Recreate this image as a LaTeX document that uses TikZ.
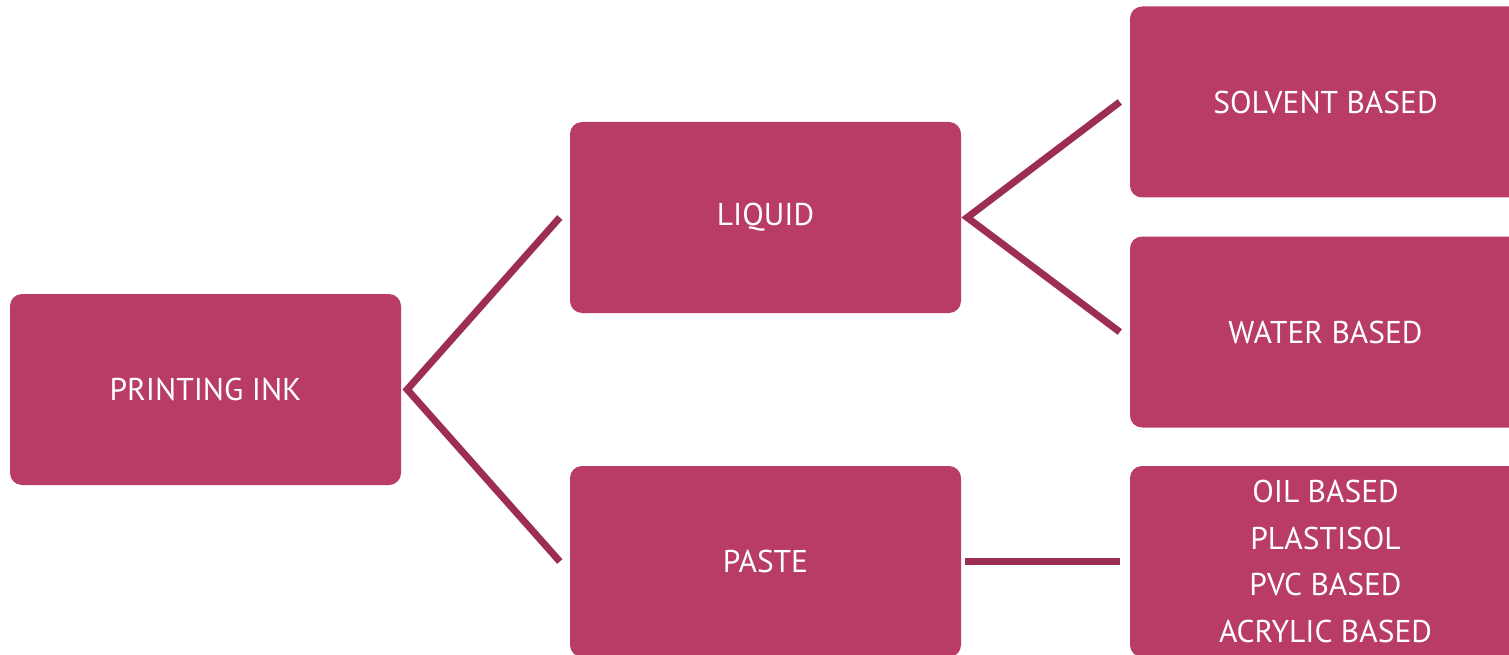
\documentclass[tikz,border=0pt]{standalone}
\usepackage{fontspec}
\setmainfont{PT Sans}
\usetikzlibrary{calc}
\definecolor{boxc}{HTML}{B83C66}
\definecolor{linec}{HTML}{9C2E55}
\begin{document}
\begin{tikzpicture}[x=1pt,y=-1pt,
  box/.style={fill=boxc,rounded corners=12pt,minimum width=391pt,minimum height=191pt,inner sep=0pt,text=white,font=\fontsize{31.5}{46.5}\selectfont,align=center},
  conn/.style={draw=linec,line width=7pt}]
\useasboundingbox (0,0) rectangle (1509,655);
\clip (0,0) rectangle (1509,655);
\fill[white] (0,0) rectangle (1509,655);
\node[box] (ink) at (205.5,389.5) {PRINTING INK};
\node[box] (liquid) at (765.5,217.5) {LIQUID};
\node[box] (paste) at (765.5,561.5) {PASTE};
\node[box] (solvent) at (1325.5,102) {SOLVENT BASED};
\node[box] (water) at (1325.5,332) {WATER BASED};
\node[box] (oil) at (1325.5,561.5) {OIL BASED\\PLASTISOL\\PVC BASED\\ACRYLIC BASED};
\coordinate (a1) at ($(ink.east)+(6,0)$);
\coordinate (a2) at ($(liquid.east)+(6,0)$);
\draw[conn] ($(liquid.west)+(-10,0)$) -- (a1) -- ($(paste.west)+(-10,0)$);
\draw[conn] ($(solvent.west)+(-10,0)$) -- (a2) -- ($(water.west)+(-10,0)$);
\draw[conn] ($(paste.east)+(4,0)$) -- ($(oil.west)+(-10,0)$);
\end{tikzpicture}
\end{document}
